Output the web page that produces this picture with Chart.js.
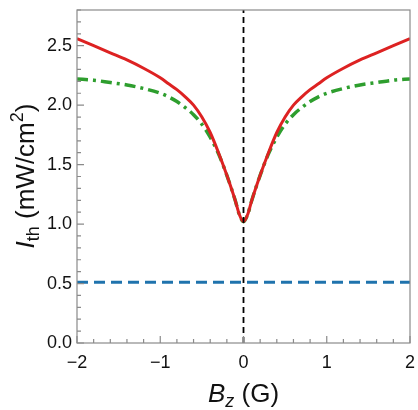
<!DOCTYPE html>
<html>
<head>
<meta charset="utf-8">
<script src="https://cdn.jsdelivr.net/npm/chart.js@4.4.1/dist/chart.umd.min.js"></script>
<style>
    html, body { margin: 0; padding: 0; background: #fff; }
    #wrap { width: 418px; height: 410px; }
</style>
</head>
<body>
<div id="wrap"><canvas id="chart"></canvas></div>
<script>
// Bz (G) sample positions, shared by the red and green curves
const bzValues = [-2, -1.8, -1.6, -1.4, -1.2, -1, -0.9, -0.8, -0.7, -0.6, -0.5, -0.4, -0.3, -0.2, -0.1, -0.05,
    0, 0.05, 0.1, 0.2, 0.3, 0.4, 0.5, 0.6, 0.7, 0.8, 0.9, 1, 1.2, 1.4, 1.6, 1.8, 2];
const redValues = [2.56, 2.50, 2.44, 2.38, 2.31, 2.23, 2.18, 2.13, 2.07, 2.00, 1.90, 1.77, 1.60, 1.41, 1.20, 1.08,
    1.02, 1.08, 1.20, 1.41, 1.60, 1.77, 1.90, 2.00, 2.07, 2.13, 2.18, 2.23, 2.31, 2.38, 2.44, 2.50, 2.56];
const greenValues = [2.22, 2.21, 2.19, 2.17, 2.14, 2.10, 2.07, 2.03, 1.98, 1.92, 1.84, 1.73, 1.59, 1.41, 1.20, 1.08,
    1.02, 1.08, 1.20, 1.41, 1.59, 1.73, 1.84, 1.92, 1.98, 2.03, 2.07, 2.10, 2.14, 2.17, 2.19, 2.21, 2.22];
const blueX = [-2, 2];
const blueValues = [0.51, 0.51];
const markerX = [0, 0];
const markerY = [0, 2.8];
const xTicks = [-2, -1, 0, 1, 2];
const yTicks = [0, 0.5, 1, 1.5, 2, 2.5];

const FONT = '"Liberation Sans", Arial, sans-serif';

function points(xs, ys) {
    return xs.map((x, i) => ({ x: x, y: ys[i] }));
}

// frame, inward ticks and the axis titles with sub/superscripts
const framePlugin = {
    id: 'frame',
    afterDraw(chart) {
        const { ctx, chartArea: a, scales: { x, y } } = chart;
        ctx.save();
        ctx.strokeStyle = '#8a8a8a';
        ctx.lineWidth = 1.2;
        ctx.strokeRect(a.left, a.top, a.right - a.left, a.bottom - a.top);

        ctx.beginPath();
        for (let i = 0; i <= 28; i++) {
            const py = y.getPixelForValue(i / 10);
            const len = i % 5 === 0 ? 7 : 4;
            ctx.moveTo(a.left, py);
            ctx.lineTo(a.left + len, py);
        }
        for (let i = -10; i <= 10; i++) {
            const px = x.getPixelForValue(i / 5);
            const len = i % 5 === 0 ? 7 : 4;
            ctx.moveTo(px, a.bottom);
            ctx.lineTo(px, a.bottom - len);
        }
        ctx.stroke();

        ctx.fillStyle = '#111';
        ctx.textBaseline = 'alphabetic';

        // x title: Bz (G)
        const big = 26, small = 18;
        const xParts = [
            { t: 'B', f: 'italic ' + big + 'px ' + FONT, dy: 0 },
            { t: 'z', f: 'italic ' + small + 'px ' + FONT, dy: 5 },
            { t: ' (G)', f: big + 'px ' + FONT, dy: 0 }
        ];
        drawParts(ctx, xParts, (a.left + a.right) / 2, 402);

        // y title: Ith (mW/cm2)
        ctx.save();
        ctx.translate(34, 176);
        ctx.rotate(-Math.PI / 2);
        const yParts = [
            { t: 'I', f: 'italic ' + big + 'px ' + FONT, dy: 0 },
            { t: 'th', f: small + 'px ' + FONT, dy: 5 },
            { t: ' (mW/cm', f: big + 'px ' + FONT, dy: 0 },
            { t: '2', f: small + 'px ' + FONT, dy: -11 },
            { t: ')', f: big + 'px ' + FONT, dy: 0 }
        ];
        drawParts(ctx, yParts, 0, 0);
        ctx.restore();
        ctx.restore();
    }
};

function drawParts(ctx, parts, cx, baseY) {
    let total = 0;
    parts.forEach(p => { ctx.font = p.f; p.w = ctx.measureText(p.t).width; total += p.w; });
    let px = cx - total / 2;
    parts.forEach(p => {
        ctx.font = p.f;
        ctx.fillText(p.t, px, baseY + p.dy);
        px += p.w;
    });
}

function init() {
    const ctx = document.getElementById('chart');
    new Chart(ctx, {
        type: 'scatter',
        data: {
            datasets: [
                {
                    data: points(markerX, markerY),
                    showLine: true,
                    borderColor: '#000',
                    borderWidth: 1.8,
                    borderDash: [6, 4],
                    pointRadius: 0
                },
                {
                    data: points(bzValues, redValues),
                    showLine: true,
                    borderColor: '#dd2222',
                    borderWidth: 3,
                    cubicInterpolationMode: 'monotone',
                    pointRadius: 0
                },
                {
                    data: points(bzValues, greenValues),
                    showLine: true,
                    borderColor: '#2e9e2e',
                    borderWidth: 3.5,
                    borderDash: [11, 5, 3, 5],
                    cubicInterpolationMode: 'monotone',
                    pointRadius: 0
                },
                {
                    data: points(blueX, blueValues),
                    showLine: true,
                    borderColor: '#1f73ad',
                    borderWidth: 3,
                    borderDash: [11, 6],
                    pointRadius: 0
                }
            ]
        },
        options: {
            responsive: true,
            maintainAspectRatio: false,
            animation: false,
            layout: { padding: { top: 10, right: 8, left: 0, bottom: 0 } },
            plugins: {
                legend: { display: false },
                tooltip: { enabled: false }
            },
            scales: {
                x: {
                    type: 'linear',
                    min: -2,
                    max: 2,
                    afterBuildTicks: scale => { scale.ticks = xTicks.map(v => ({ value: v })); },
                    afterFit: scale => { scale.height = 67; scale.paddingLeft = 0; scale.paddingRight = 0; },
                    grid: { display: false, drawTicks: false },
                    border: { display: false },
                    ticks: {
                        padding: 9,
                        color: '#111',
                        font: { family: FONT, size: 18 },
                        maxRotation: 0,
                        callback: v => (v < 0 ? '\u2212' + Math.abs(v) : String(v))
                    }
                },
                y: {
                    type: 'linear',
                    min: 0,
                    max: 2.8,
                    afterBuildTicks: scale => { scale.ticks = yTicks.map(v => ({ value: v })); },
                    afterFit: scale => { scale.width = 77; scale.paddingTop = 0; scale.paddingBottom = 0; },
                    grid: { display: false, drawTicks: false },
                    border: { display: false },
                    ticks: {
                        padding: 5,
                        color: '#111',
                        font: { family: FONT, size: 18 },
                        callback: v => v.toFixed(1)
                    }
                }
            }
        },
        plugins: [framePlugin]
    });
}

window.onload = init;
</script>
</body>
</html>
